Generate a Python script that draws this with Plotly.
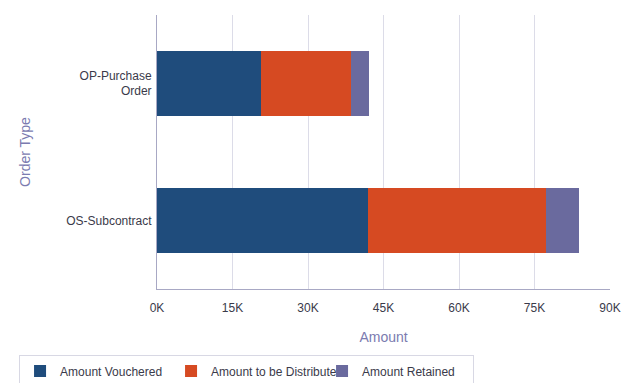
import plotly.graph_objects as go

categories = ["OP-Purchase<br>Order", "OS-Subcontract"]
amount_vouchered = [20700, 41900]
amount_distributed = [17800, 35400]
amount_retained = [3700, 6500]
tick_vals = [0, 15000, 30000, 45000, 60000, 75000, 90000]
tick_text = ["0K", "15K", "30K", "45K", "60K", "75K", "90K"]

series = [
    ("Amount Vouchered", amount_vouchered, "#1f4c7c"),
    ("Amount to be Distributed", amount_distributed, "#d64a22"),
    ("Amount Retained", amount_retained, "#6a6a9e"),
]

fig = go.Figure()
for name, vals, color in series:
    fig.add_trace(go.Bar(
        y=categories, x=vals, name=name, orientation="h",
        marker=dict(color=color, line=dict(width=0)),
        width=0.47,
    ))

font_family = "Liberation Sans, Arial, sans-serif"
fig.update_layout(
    barmode="stack",
    width=635, height=383,
    margin=dict(l=157, r=25, t=15, b=94),
    paper_bgcolor="white", plot_bgcolor="white",
    font=dict(family=font_family, size=12, color="#3a3a4a"),
    xaxis=dict(
        range=[0, 90000], tickvals=tick_vals, ticktext=tick_text,
        showgrid=True, gridcolor="#dcdce8", gridwidth=1,
        zeroline=False, showline=True, linecolor="#a8a8c4",
        ticks="outside", ticklen=8, tickcolor="rgba(0,0,0,0)",
        automargin=False,
        title=dict(text="Amount", font=dict(color="#7b7bb0", size=14), standoff=17),
    ),
    yaxis=dict(
        autorange="reversed", showgrid=False, zeroline=False,
        showline=True, linecolor="#a8a8c4",
        ticks="outside", ticklen=2, tickcolor="rgba(0,0,0,0)",
        automargin=False,
        title=dict(text="Order Type", font=dict(color="#7b7bb0", size=14), standoff=32),
    ),
    legend=dict(
        orientation="h", xref="container", yref="container",
        x=0.03, xanchor="left", y=0.072, yanchor="top",
        bordercolor="#d8d8e4", borderwidth=1, font=dict(size=12, color="#3a3a4a"),
        traceorder="normal", entrywidth=106, entrywidthmode="pixels",
        itemwidth=30, tracegroupgap=0,
    ),
)
fig.write_html("out.html", config={"displayModeBar": False},
               post_script="document.body.style.margin='0';")
